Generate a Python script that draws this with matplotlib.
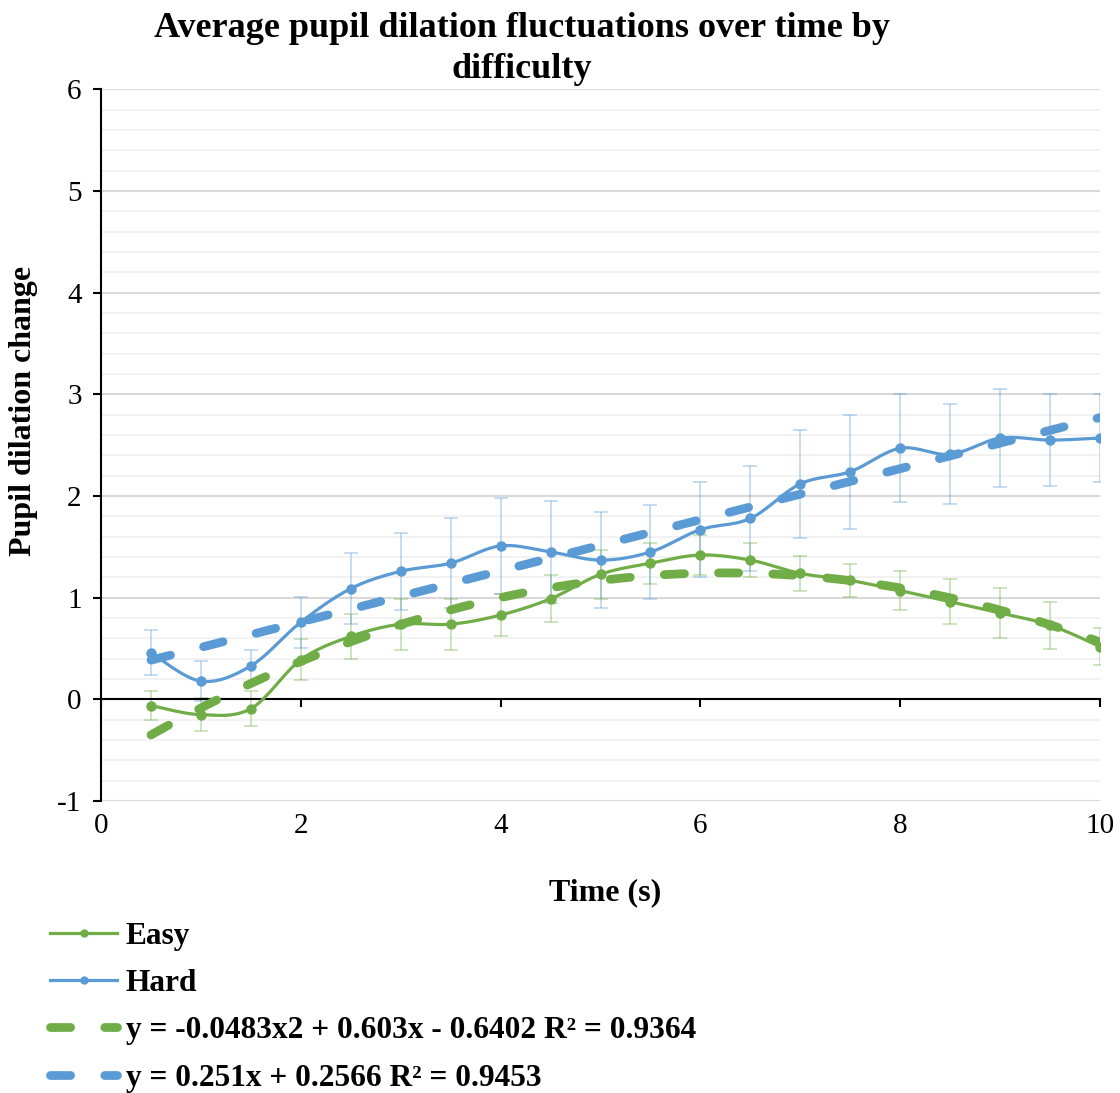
import numpy as np
import matplotlib.pyplot as plt
from matplotlib.ticker import MultipleLocator

# data
time_s = [0.5, 1.0, 1.5, 2.0, 2.5, 3.0, 3.5, 4.0, 4.5, 5.0,
          5.5, 6.0, 6.5, 7.0, 7.5, 8.0, 8.5, 9.0, 9.5, 10.0]
easy = [-0.06, -0.15, -0.09, 0.39, 0.62, 0.74, 0.74, 0.83, 0.99, 1.23,
        1.34, 1.42, 1.37, 1.24, 1.17, 1.07, 0.96, 0.85, 0.73, 0.52]
easy_err = [0.14, 0.16, 0.17, 0.20, 0.22, 0.25, 0.25, 0.21, 0.23, 0.24,
            0.20, 0.20, 0.17, 0.17, 0.16, 0.19, 0.22, 0.25, 0.23, 0.18]
hard = [0.46, 0.18, 0.33, 0.76, 1.09, 1.26, 1.34, 1.51, 1.45, 1.37,
        1.45, 1.67, 1.78, 2.12, 2.24, 2.47, 2.41, 2.57, 2.55, 2.57]
hard_err = [0.22, 0.20, 0.16, 0.25, 0.35, 0.38, 0.44, 0.47, 0.50, 0.47,
            0.46, 0.47, 0.52, 0.53, 0.56, 0.53, 0.49, 0.48, 0.45, 0.43]

series_labels = ['Easy', 'Hard']
trend_labels = ['y = -0.0483x2 + 0.603x - 0.6402 R² = 0.9364',
                'y = 0.251x + 0.2566 R² = 0.9453']

GREEN = '#70ad47'
BLUE = '#5b9bd5'
SERIF = ['Liberation Serif', 'DejaVu Serif']

plt.rcParams['axes.unicode_minus'] = False


def smooth(x, y, n=20):
    # excel-style smoothed line: bezier with catmull-rom control points
    x = np.asarray(x, float)
    y = np.asarray(y, float)
    px = np.concatenate([[x[0]], x, [x[-1]]])
    py = np.concatenate([[y[0]], y, [y[-1]]])
    xs, ys = [], []
    t = np.linspace(0, 1, n, endpoint=False)
    for i in range(1, len(x)):
        p0 = np.array([px[i], py[i]])
        p3 = np.array([px[i + 1], py[i + 1]])
        p1 = p0 + (p3 - np.array([px[i - 1], py[i - 1]])) / 6
        p2 = p3 - (np.array([px[i + 2], py[i + 2]]) - p0) / 6
        pts = ((1 - t) ** 3)[:, None] * p0 + (3 * (1 - t) ** 2 * t)[:, None] * p1 \
            + (3 * (1 - t) * t ** 2)[:, None] * p2 + (t ** 3)[:, None] * p3
        xs.extend(pts[:, 0])
        ys.extend(pts[:, 1])
    xs.append(x[-1])
    ys.append(y[-1])
    return xs, ys


fig = plt.figure(figsize=(11.2, 10.93), dpi=100)
ax = fig.add_axes([0.0902, 0.267, 0.892, 0.6514])

ax.set_xlim(0, 10)
ax.set_ylim(-1, 6)
ax.yaxis.set_major_locator(MultipleLocator(1))
ax.yaxis.set_minor_locator(MultipleLocator(0.2))
ax.xaxis.set_major_locator(MultipleLocator(2))
ax.grid(axis='y', which='minor', color='#f2f2f2', lw=1.5, zorder=0)
ax.grid(axis='y', which='major', color='#d9d9d9', lw=1.5, zorder=0)
ax.set_axisbelow(True)

for s in ['top', 'right']:
    ax.spines[s].set_visible(False)
ax.spines['bottom'].set_position(('data', 0))
ax.spines['left'].set_linewidth(1.5)
ax.spines['bottom'].set_linewidth(1.5)
ax.tick_params(axis='x', which='major', direction='out', length=6, width=1.5, pad=76)
ax.tick_params(axis='y', which='major', direction='out', length=6, width=1.5, pad=8)
ax.tick_params(which='minor', length=0)
for lbl in ax.get_xticklabels() + ax.get_yticklabels():
    lbl.set_fontfamily(SERIF)
    lbl.set_fontsize(21)

# error bars
ax.errorbar(time_s, easy, yerr=easy_err, fmt='none', ecolor=GREEN, alpha=0.35,
            elinewidth=1.4, capsize=5, capthick=1.4, zorder=2)
ax.errorbar(time_s, hard, yerr=hard_err, fmt='none', ecolor=BLUE, alpha=0.35,
            elinewidth=1.4, capsize=5, capthick=1.4, zorder=2)

# smoothed series
handles = []
for y, c, lab in [(easy, GREEN, series_labels[0]), (hard, BLUE, series_labels[1])]:
    sx, sy = smooth(time_s, y)
    ax.plot(sx, sy, color=c, lw=2.3, zorder=4)
    ax.plot(time_s, y, 'o', color=c, ms=6.5, zorder=5)
    h, = ax.plot([], [], color=c, lw=2.3, marker='o', ms=5, label=lab)
    handles.append(h)

# trendlines fitted to the data
xt = np.linspace(time_s[0], time_s[-1], 200)
for y, deg, c, lab in [(easy, 2, GREEN, trend_labels[0]), (hard, 1, BLUE, trend_labels[1])]:
    coef = np.polyfit(time_s, y, deg)
    h, = ax.plot(xt, np.polyval(coef, xt), color=c, lw=6.3, dashes=(2.3, 3.9),
                 dash_capstyle='round', zorder=3, label=lab)
    handles.append(h)

fig.text(0.466, 0.989, 'Average pupil dilation fluctuations over time by\ndifficulty',
         family=SERIF, fontsize=26, fontweight='bold', ha='center', va='top',
         linespacing=1.33)
fig.text(0.021, 0.624, 'Pupil dilation change', family=SERIF, fontsize=23,
         fontweight='bold', rotation=90, ha='center', va='center')
fig.text(0.54, 0.183, 'Time (s)', family=SERIF, fontsize=23, fontweight='bold',
         ha='center', va='center')

fig.legend(handles=handles, loc='upper left', bbox_to_anchor=(0.0446, 0.1565),
           frameon=False, handlelength=2.15, handletextpad=0.26, labelspacing=0.58,
           borderpad=0, borderaxespad=0,
           prop={'family': SERIF, 'weight': 'bold', 'size': 22.6})

fig.savefig('out.png', dpi=100)
